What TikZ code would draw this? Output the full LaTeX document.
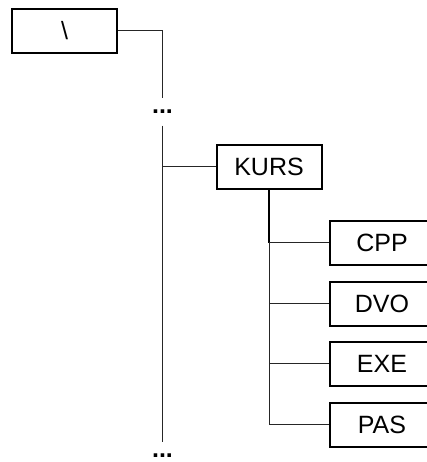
\documentclass[tikz,border=0pt]{standalone}
\usepackage{fontspec}
\setmainfont{Liberation Sans}
\begin{document}
\begin{tikzpicture}[x=1pt,y=-1pt,font=\fontsize{25}{29}\selectfont, line join=miter,
  dirbox/.style={draw, line width=2pt, minimum width=105pt, minimum height=44pt, inner sep=0pt},
  dotsmark/.style={font=\fontsize{25}{29}\selectfont\bfseries, inner xsep=0pt, inner ysep=12pt, text height=3pt, text depth=0pt},
  branch/.style={line width=1pt, black!85}]
\useasboundingbox (0,0) rectangle (427,462);
\node[dirbox] (root) at (64.5,31) {\textbackslash};
\node[dotsmark] (dotsa) at (162.5,112) {...};
\node[dotsmark] (dotsb) at (162.5,456) {...};
\node[dirbox] (kurs) at (269,167) {KURS};
\node[dirbox] (cpp) at (382,242.5) {CPP};
\node[dirbox] (dvo) at (382,303.5) {DVO};
\node[dirbox] (exe) at (382,363.5) {EXE};
\node[dirbox] (pas) at (382,424.5) {PAS};
\draw[branch] (root.east) -| (dotsa.north);
\draw[branch] (dotsa.south) -- (dotsb.north);
\draw[branch] (kurs.west) -- (kurs.west -| dotsa.south);
\draw[branch, line width=1.5pt, black] (kurs.south) -- (kurs.south |- cpp.west);
\draw[branch] (kurs.south |- cpp.west) |- (pas.west);
\draw[branch] (cpp.west) -- (cpp.west -| kurs.south);
\draw[branch] (dvo.west) -- (dvo.west -| kurs.south);
\draw[branch] (exe.west) -- (exe.west -| kurs.south);
\end{tikzpicture}
\end{document}
